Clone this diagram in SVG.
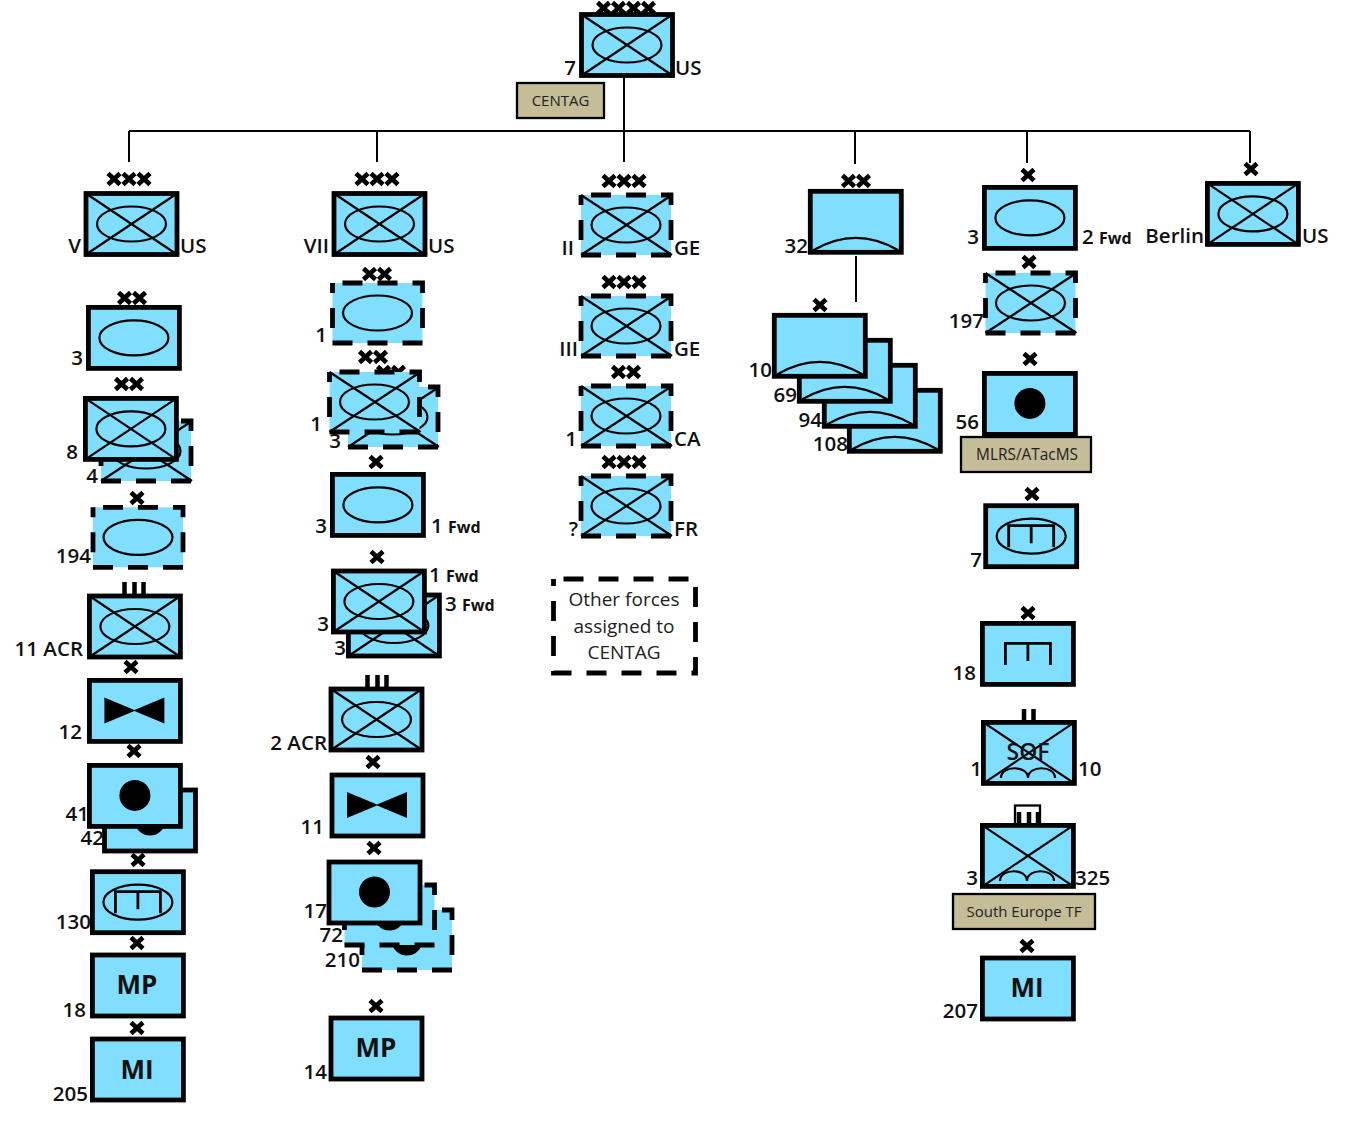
<svg xmlns="http://www.w3.org/2000/svg" width="1361" height="1121" viewBox="0 0 1361 1121">
<style>
text{font-family:"Open Sans","Noto Sans","Liberation Sans",sans-serif;fill:#111}
.l{font-size:20.5px;font-weight:650;transform:translateY(.3px)}
.e{text-anchor:end}
.f{font-size:16px;font-weight:700}
.m{font-size:26px;font-weight:700;text-anchor:middle}
.t{font-size:15px;text-anchor:middle;fill:#222}
.o{font-size:19px;text-anchor:middle;fill:#222}
.b{fill:#80DFFF;stroke:#000;stroke-width:4.8}
.a{fill:#80DFFF;stroke:none}
.d{fill:none;stroke:#000;stroke-width:4.8;stroke-dasharray:20 15;stroke-dashoffset:25}
.i{fill:none;stroke:#000;stroke-width:2.2}
.g{fill:none;stroke:#000;stroke-width:2.8}
.k{fill:#000;stroke:none}
.h{stroke:#000;stroke-width:4.6;fill:none}
.v{stroke:#000;stroke-width:4.5;fill:none}
.c{stroke:#000;stroke-width:2;fill:none}
.n{fill:#C4BD97;stroke:#000;stroke-width:2.3}
</style>
<defs>
<rect id="s" class="b" x="0" y="0" width="91" height="61"/>
<g id="dr"><rect class="a" width="90" height="60"/><rect class="d" width="90" height="60"/></g>
<path id="cr" class="i" d="M0 0L91 61M0 61L91 0"/>
<ellipse id="ov" class="i" cx="45.500" cy="30.500" rx="34.500" ry="17.500"/>
<g id="inf"><use href="#s"/><use href="#cr"/><use href="#ov"/></g>
<g id="infd"><use href="#dr"/><path class="i" d="M0 0L91 60M0 60L91 0"/><ellipse class="i" cx="45" cy="30" rx="34.500" ry="17.500"/></g>
<g id="ar"><use href="#s"/><use href="#ov"/></g>
<g id="ard"><use href="#dr"/><ellipse class="i" cx="45" cy="30" rx="34.500" ry="17.500"/></g>
<path id="arc" class="i" d="M3 59Q45.500 34 88 59"/>
<g id="air"><use href="#s"/><use href="#arc"/></g>
<g id="bow"><use href="#s"/><path class="k" d="M15 17L45 29.500V30.500L15 43ZM75 17L45 29.500V30.500L75 43Z"/></g>
<g id="art"><use href="#s"/><circle class="k" cx="45.500" cy="30" r="15.500"/></g>
<g id="artd"><use href="#dr"/><circle class="k" cx="45" cy="30" r="15.500"/></g>
<path id="eng" class="g" d="M23 41.500V20H68V41.500M45.500 20V37.500"/>
<path id="hump" class="i" d="M18 56C18 43 45 43 45 56C45 43 72 43 72 56"/>
<path id="x" class="h" d="M-6 -5.500L6 5.500M-6 5.500L6 -5.500"/>
<g id="x2"><use href="#x" x="-7.500"/><use href="#x" x="7.500"/></g>
<g id="x3"><use href="#x" x="-15"/><use href="#x"/><use href="#x" x="15"/></g>
<g id="x4"><use href="#x" x="-22.500"/><use href="#x" x="-7.500"/><use href="#x" x="7.500"/><use href="#x" x="22.500"/></g>
<path id="b3" class="v" d="M-9 0V12M1 0V12M10 0V12"/>
</defs>

<g id="connectors">
<path class="c" d="M129 131H1250M129 131V162M377 131V162M624 76V162M855 131V164M1027 131V163M1250 131V163M856 256V302"/>
</g>

<g id="army7"><use href="#inf" x="581.500" y="14.500"/><use href="#x4" x="626" y="8"/><text class="l e" x="576" y="75">7</text><text class="l" x="675" y="75">US</text></g>
<g id="centag"><rect class="n" x="517" y="83" width="87" height="35"/><text class="t" x="560.500" y="106">CENTAG</text></g>

<g id="corpsV"><use href="#inf" x="86" y="193.500"/><use href="#x3" x="129" y="179"/><text class="l e" x="81" y="253">V</text><text class="l" x="180" y="253">US</text></g>
<g id="v3"><use href="#ar" x="88.400" y="307.400"/><use href="#x2" x="132" y="298"/><text class="l e" x="83" y="365">3</text></g>
<g id="v4"><use href="#infd" x="101" y="421"/><text class="l e" x="98" y="483">4</text></g>
<g id="v8"><use href="#inf" x="85.400" y="398.400"/><use href="#x2" x="129" y="384"/><text class="l e" x="78" y="459">8</text></g>
<g id="v194"><use href="#ard" x="93" y="507.300"/><use href="#x" x="137" y="498"/><text class="l e" x="91" y="563">194</text></g>
<g id="v11"><use href="#inf" x="89.400" y="596"/><use href="#b3" x="133.500" y="582"/><text class="l e" x="83" y="656">11 ACR</text></g>
<g id="v12"><use href="#bow" x="89.400" y="680.400"/><use href="#x" x="131" y="667"/><text class="l e" x="82" y="739">12</text></g>
<g id="v42"><use href="#art" x="104.500" y="790"/><text class="l e" x="104" y="845">42</text></g>
<g id="v41"><use href="#art" x="89.400" y="765.400"/><use href="#x" x="134" y="751"/><text class="l e" x="89" y="821">41</text></g>
<g id="v130"><use href="#ar" x="92.400" y="871.700"/><use href="#eng" x="92.400" y="871.700"/><use href="#x" x="138" y="860"/><text class="l e" x="91" y="929">130</text></g>
<g id="v18"><use href="#s" x="92.400" y="955"/><text class="m" x="137" y="994">MP</text><use href="#x" x="137" y="943"/><text class="l e" x="86" y="1017">18</text></g>
<g id="v205"><use href="#s" x="92.400" y="1039"/><text class="m" x="137" y="1079">MI</text><use href="#x" x="137" y="1028"/><text class="l e" x="88" y="1101">205</text></g>

<g id="corpsVII"><use href="#inf" x="334" y="193.500"/><use href="#x3" x="377" y="179"/><text class="l e" x="329" y="253">VII</text><text class="l" x="428" y="253">US</text></g>
<g id="c1a"><use href="#ard" x="332.500" y="283"/><use href="#x2" x="377" y="274"/><text class="l e" x="327" y="342">1</text></g>
<g id="c3b"><use href="#infd" x="348" y="387"/><use href="#x2" x="391" y="372"/><text class="l e" x="341" y="448">3</text></g>
<g id="c1b"><use href="#infd" x="329.500" y="372"/><use href="#x2" x="373" y="357"/><text class="l e" x="322" y="431">1</text></g>
<g id="c3c"><use href="#ar" x="332.400" y="474.400"/><use href="#x" x="376" y="462"/><text class="l e" x="327" y="533">3</text><text class="l" x="431" y="533">1 <tspan class="f">Fwd</tspan></text></g>
<g id="c3e"><use href="#inf" x="348.400" y="595"/><text class="l e" x="346" y="655">3</text><text class="l" x="445" y="611">3 <tspan class="f">Fwd</tspan></text></g>
<g id="c3d"><use href="#inf" x="333.400" y="571"/><use href="#x" x="377" y="557"/><text class="l e" x="329" y="631">3</text><text class="l" x="429" y="582">1 <tspan class="f">Fwd</tspan></text></g>
<g id="c2"><use href="#inf" x="331" y="689"/><use href="#b3" x="376.500" y="675"/><text class="l e" x="327" y="750">2 ACR</text></g>
<g id="c11"><use href="#bow" x="332" y="775"/><use href="#x" x="373" y="762"/><text class="l e" x="324" y="834">11</text></g>
<g id="c210"><use href="#artd" x="362" y="910"/><text class="l e" x="360" y="967">210</text></g>
<g id="c72"><use href="#artd" x="344.500" y="885"/><text class="l e" x="343" y="942">72</text></g>
<g id="c17"><use href="#art" x="329" y="862"/><use href="#x" x="374" y="848"/><text class="l e" x="327" y="918">17</text></g>
<g id="c14"><use href="#s" x="331" y="1018"/><text class="m" x="376" y="1057">MP</text><use href="#x" x="376" y="1006"/><text class="l e" x="327" y="1079">14</text></g>

<g id="corpsII"><use href="#infd" x="581" y="195"/><use href="#x3" x="624" y="181"/><text class="l e" x="574" y="255">II</text><text class="l" x="674" y="255">GE</text></g>
<g id="corpsIII"><use href="#infd" x="581" y="296"/><use href="#x3" x="624" y="282"/><text class="l e" x="578" y="356">III</text><text class="l" x="674" y="356">GE</text></g>
<g id="ca1"><use href="#infd" x="581" y="386"/><use href="#x2" x="626" y="372"/><text class="l e" x="577" y="446">1</text><text class="l" x="674" y="446">CA</text></g>
<g id="fr"><use href="#infd" x="581" y="476"/><use href="#x3" x="624" y="462"/><text class="l e" x="578" y="536">?</text><text class="l" x="674" y="536">FR</text></g>
<g id="other"><rect class="d" x="553.500" y="579" width="142" height="94"/><text class="o" x="624" y="606">Other forces</text><text class="o" x="624" y="633">assigned to</text><text class="o" x="624" y="659">CENTAG</text></g>

<g id="d32"><use href="#air" x="810.300" y="191.300"/><use href="#x2" x="856" y="181"/><text class="l e" x="808" y="253">32</text></g>
<g id="b108"><use href="#air" x="849.300" y="390.300"/><text class="l e" x="848" y="451">108</text></g>
<g id="b94"><use href="#air" x="824.300" y="365.300"/><text class="l e" x="822" y="427">94</text></g>
<g id="b69"><use href="#air" x="799.300" y="340.300"/><text class="l e" x="797" y="402">69</text></g>
<g id="b10"><use href="#air" x="774.300" y="315.300"/><use href="#x" x="820" y="305"/><text class="l e" x="772" y="377">10</text></g>

<g id="r3"><use href="#ar" x="984.400" y="187.400"/><use href="#x" x="1028" y="175"/><text class="l e" x="979" y="244">3</text><text class="l" x="1082" y="244">2 <tspan class="f">Fwd</tspan></text></g>
<g id="berlin"><use href="#inf" x="1207.400" y="183.400"/><use href="#x" x="1251" y="169"/><text class="l e" x="1204" y="243">Berlin</text><text class="l" x="1302" y="243">US</text></g>
<g id="r197"><use href="#infd" x="985.500" y="273"/><use href="#x" x="1029" y="262"/><text class="l e" x="984" y="328">197</text></g>
<g id="r56"><use href="#art" x="984.400" y="373.400"/><use href="#x" x="1030" y="359"/><text class="l e" x="979" y="429">56</text></g>
<g id="mlrs"><rect class="n" x="961" y="437" width="130" height="35"/><text class="t" x="1027" y="460" style="font-size:15.400px">MLRS/ATacMS</text></g>
<g id="r7"><use href="#ar" x="985.700" y="505.700"/><use href="#eng" x="985.700" y="505.700"/><use href="#x" x="1032" y="494"/><text class="l e" x="982" y="567">7</text></g>
<g id="r18"><use href="#s" x="982.400" y="623.400"/><use href="#eng" x="982.400" y="623.400"/><use href="#x" x="1028" y="613"/><text class="l e" x="976" y="680">18</text></g>
<g id="sof"><use href="#s" x="983.400" y="722.400"/><use href="#cr" x="983.400" y="722.400"/><use href="#hump" x="983" y="722"/><path class="v" d="M1024 709V722M1033.500 709V722"/><text x="1028" y="760" text-anchor="middle" style="font-size:23px;font-weight:600">SOF</text><text class="l e" x="982" y="776">1</text><text class="l" x="1078" y="776">10</text></g>
<g id="r325"><rect x="1015" y="805.500" width="25" height="20" fill="none" stroke="#000" stroke-width="2.300"/><use href="#b3" x="1028" y="812"/><use href="#s" x="982.400" y="825.400"/><use href="#cr" x="982.400" y="825.400"/><use href="#hump" x="982" y="825"/><text class="l e" x="978" y="885">3</text><text class="l" x="1075" y="885">325</text></g>
<g id="setf"><rect class="n" x="953" y="894" width="142" height="35"/><text class="t" x="1024" y="917">South Europe TF</text></g>
<g id="r207"><use href="#s" x="982.400" y="958"/><text class="m" x="1027" y="997">MI</text><use href="#x" x="1027" y="946"/><text class="l e" x="978" y="1018">207</text></g>
</svg>
